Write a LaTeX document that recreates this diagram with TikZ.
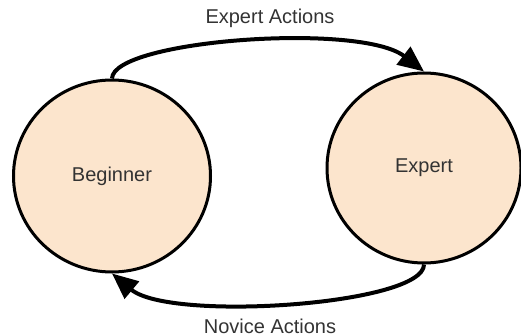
\documentclass[tikz,border=0pt]{standalone}
\usepackage{fontspec}
\setmainfont{Liberation Sans}
\usetikzlibrary{shapes.geometric,arrows.meta}
\definecolor{peach}{HTML}{FCE5CD}
\definecolor{ink}{HTML}{333333}
\tikzset{
  state/.style={ellipse, draw=black, line width=3pt, fill=peach,
    text=ink, font=\fontsize{20}{24}\selectfont, inner sep=0pt},
  flow/.style={line width=4pt, -{Triangle[length=26pt,width=22pt]}},
  caption/.style={text=ink, font=\fontsize{20}{24}\selectfont, inner sep=0pt}
}
\begin{document}
\begin{tikzpicture}[x=1pt,y=-1pt]
  \useasboundingbox (0,0) rectangle (521,336);
  \node[state, minimum width=197pt, minimum height=192pt] (beg) at (112,176) {Beginner};
  \node[state, minimum width=194pt, minimum height=190pt] (exp) at (424,168) {Expert};
  \draw[flow] (beg.north) .. controls (113,40) and (360,22) .. (exp.north);
  \draw[flow] (exp.south) .. controls (424,305) and (170,322) .. (beg.south);
  \node[caption] (top) at (270,18) {Expert Actions};
  \node[caption] (bot) at (270,326) {Novice Actions};
\end{tikzpicture}
\end{document}
